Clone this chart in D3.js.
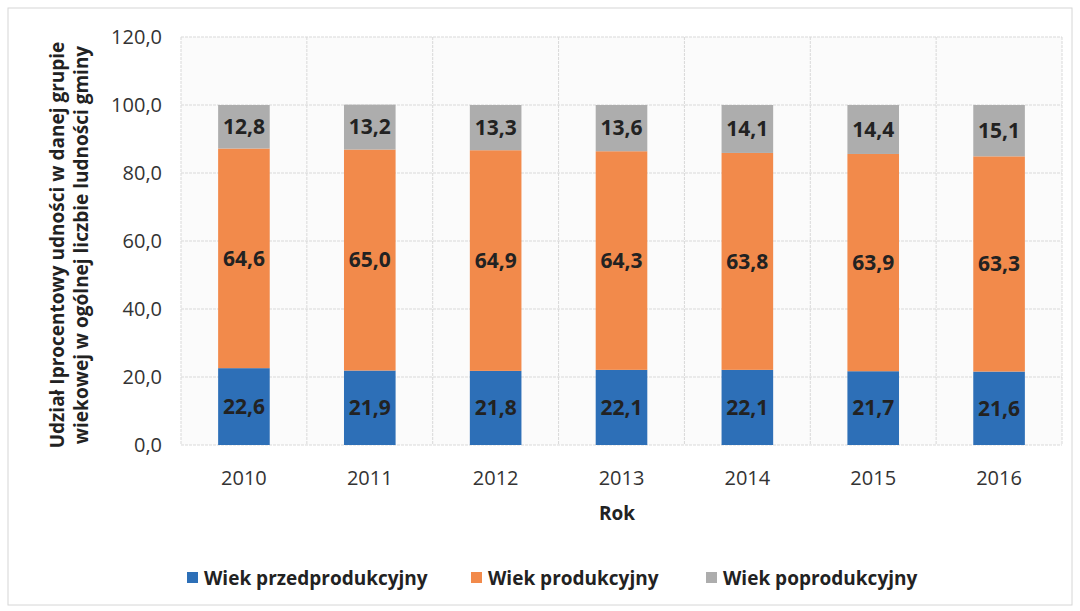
<!DOCTYPE html>
<meta charset="utf-8">
<body style="margin:0;background:#fff">
<script src="https://d3js.org/d3.v7.min.js"></script>
<script>

// dane
var years = ["2010", "2011", "2012", "2013", "2014", "2015", "2016"];
var przed = [22.6, 21.9, 21.8, 22.1, 22.1, 21.7, 21.6];
var prod = [64.6, 65.0, 64.9, 64.3, 63.8, 63.9, 63.3];
var popr = [12.8, 13.2, 13.3, 13.6, 14.1, 14.4, 15.1];
var seriesNames = ["Wiek przedprodukcyjny", "Wiek produkcyjny", "Wiek poprodukcyjny"];
var yTicks = [0, 20, 40, 60, 80, 100, 120];

var colors = ["#2d6fb7", "#f28a4b", "#adadad"];
var font = "'Open Sans', sans-serif";

var width = 1080, height = 611;
var margin = {left: 181, right: 18, top: 37, bottom: 166};

var svg = d3.select("body").append("svg")
    .attr("width", width)
    .attr("height", height)
    .style("font-family", font);

svg.append("rect")
    .attr("x", 8).attr("y", 8)
    .attr("width", width - 16).attr("height", height - 14)
    .attr("fill", "#fff")
    .attr("stroke", "#d6d6d6");

var x = d3.scaleBand()
    .domain(years)
    .range([margin.left, width - margin.right])
    .paddingInner(0.59)
    .paddingOuter(0.295);

var y = d3.scaleLinear()
    .domain([0, 120])
    .range([height - margin.bottom, margin.top]);

// tło obszaru wykresu
svg.append("rect")
    .attr("x", margin.left).attr("y", margin.top)
    .attr("width", width - margin.left - margin.right)
    .attr("height", y(0) - margin.top)
    .attr("fill", "#fbfbfb");

// siatka pozioma
svg.append("g")
  .selectAll("line")
  .data(yTicks)
  .enter().append("line")
    .attr("x1", margin.left)
    .attr("x2", width - margin.right)
    .attr("y1", function(d) { return y(d); })
    .attr("y2", function(d) { return y(d); })
    .attr("stroke", "#d9d9d9")
    .attr("stroke-dasharray", "3,1");

// siatka pionowa (między kategoriami)
var step = x.step();
svg.append("g")
  .selectAll("line")
  .data(d3.range(years.length + 1))
  .enter().append("line")
    .attr("x1", function(i) { return margin.left + i * step; })
    .attr("x2", function(i) { return margin.left + i * step; })
    .attr("y1", margin.top)
    .attr("y2", y(0))
    .attr("stroke", "#d9d9d9")
    .attr("stroke-dasharray", "3,1");

// dane w postaci wierszy dla d3.stack
var rows = years.map(function(yr, i) {
  return {year: yr, a: przed[i], b: prod[i], c: popr[i]};
});
var stack = d3.stack().keys(["a", "b", "c"]);
var layers = stack(rows);

var layer = svg.append("g")
  .selectAll("g")
  .data(layers)
  .enter().append("g")
    .attr("fill", function(d, i) { return colors[i]; });

layer.selectAll("rect")
  .data(function(d) { return d; })
  .enter().append("rect")
    .attr("x", function(d) { return x(d.data.year); })
    .attr("width", x.bandwidth())
    .attr("y", function(d) { return y(d[1]); })
    .attr("height", function(d) { return y(d[0]) - y(d[1]); });

// etykiety wartości
layer.selectAll("text")
  .data(function(d) { return d; })
  .enter().append("text")
    .attr("x", function(d) { return x(d.data.year) + x.bandwidth() / 2; })
    .attr("y", function(d) { return (y(d[0]) + y(d[1])) / 2; })
    .attr("dy", "0.35em")
    .attr("text-anchor", "middle")
    .attr("fill", "#222")
    .attr("font-size", 21)
    .attr("font-weight", "bold")
    .text(function(d) { return (d[1] - d[0]).toFixed(1).replace(".", ","); });

// oś Y - etykiety
svg.append("g")
  .selectAll("text")
  .data(yTicks)
  .enter().append("text")
    .attr("x", 162)
    .attr("y", function(d) { return y(d); })
    .attr("dy", "0.35em")
    .attr("text-anchor", "end")
    .attr("fill", "#333")
    .attr("font-size", 20)
    .text(function(d) { return d.toFixed(1).replace(".", ","); });

// oś X - etykiety
svg.append("g")
  .selectAll("text")
  .data(years)
  .enter().append("text")
    .attr("x", function(d) { return x(d) + x.bandwidth() / 2; })
    .attr("y", 485)
    .attr("text-anchor", "middle")
    .attr("fill", "#333")
    .attr("font-size", 20)
    .text(function(d) { return d; });

svg.append("text")
    .attr("x", 617)
    .attr("y", 520)
    .attr("text-anchor", "middle")
    .attr("fill", "#222")
    .attr("font-size", 19)
    .attr("font-weight", "bold")
    .text("Rok");

// tytuł osi Y
var yt = svg.append("text")
    .attr("transform", "translate(70,245) rotate(-90)")
    .attr("text-anchor", "middle")
    .attr("fill", "#222")
    .attr("font-size", 19)
    .attr("font-weight", "bold");
yt.append("tspan").attr("x", 0).attr("y", -6).text("Udział Iprocentowy udności w danej grupie");
yt.append("tspan").attr("x", 0).attr("y", 18).text("wiekowej w ogólnej liczbie ludności gminy");

// legenda
var legendX = [187, 471, 706];
var lg = svg.append("g")
  .selectAll("g")
  .data(seriesNames)
  .enter().append("g")
    .attr("transform", function(d, i) { return "translate(" + legendX[i] + ",578)"; });
lg.append("rect")
    .attr("x", 0).attr("y", -6)
    .attr("width", 11).attr("height", 11)
    .attr("fill", function(d, i) { return colors[i]; });
lg.append("text")
    .attr("x", 17)
    .attr("dy", "0.35em")
    .attr("fill", "#222")
    .attr("font-size", 19)
    .attr("font-weight", "bold")
    .text(function(d) { return d; });

</script>
</body>
